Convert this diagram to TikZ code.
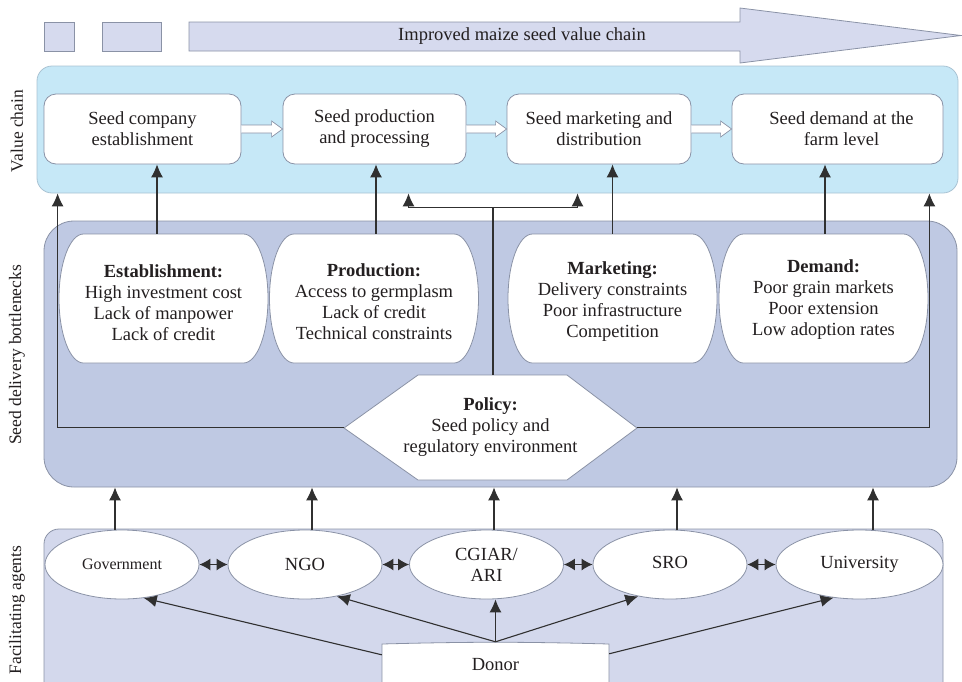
\documentclass[tikz,border=0pt]{standalone}
\usepackage{fontspec}
\setmainfont{Liberation Serif}
\usetikzlibrary{arrows.meta,calc,shapes.geometric}
\definecolor{vcfill}{HTML}{C6E8F7}
\definecolor{vcline}{HTML}{A9C3D3}
\definecolor{bnfill}{HTML}{BFC9E3}
\definecolor{fafill}{HTML}{D3D8EC}
\definecolor{topfill}{HTML}{D6DAEE}
\definecolor{edge}{HTML}{8A92A6}
\definecolor{ink}{HTML}{231F20}
\definecolor{wire}{HTML}{303030}
\newcommand{\bubblepath}[2]{%
  \filldraw[fill=white, draw=edge, line width=0.8pt] ($(#1,#2)+(-80pt,64.5pt)$) -- ++(160pt,0pt)
    arc[start angle=90, end angle=-90, x radius=24.5pt, y radius=64.5pt] -- ++(-160pt,0pt)
    arc[start angle=270, end angle=90, x radius=24.5pt, y radius=64.5pt] -- cycle;}
\newcommand{\hollowarr}[2]{%
  \filldraw[fill=white, draw=edge, line width=0.7pt] ($(#1.east)+(0pt,4pt)$) -- ($(#2.west)+(-11pt,4pt)$)
    -- ($(#2.west)+(-11pt,8pt)$) -- (#2.west) -- ($(#2.west)+(-11pt,-8pt)$)
    -- ($(#2.west)+(-11pt,-4pt)$) -- ($(#1.east)+(0pt,-4pt)$);}
\begin{document}
\begin{tikzpicture}[x=1pt,y=-1pt,
  every node/.style={font=\fontsize{18.5}{21}\selectfont, text=ink},
  topshape/.style={fill=topfill, draw=edge, line width=0.8pt},
  panel/.style={draw=edge, line width=0.8pt, inner sep=0pt},
  chainbox/.style={draw=edge, fill=white, rounded corners=12pt, minimum height=70pt, inner sep=0pt, align=center, line width=0.8pt},
  bubtext/.style={minimum width=209pt, minimum height=129pt, inner sep=0pt, align=center},
  vlabel/.style={rotate=90, font=\fontsize{17.5}{20}\selectfont},
  agent/.style={ellipse, draw=edge, fill=white, minimum width=154pt, minimum height=69pt, inner sep=0pt, align=center, line width=0.8pt},
  shapeline/.style={fill=white, draw=edge, line width=0.8pt},
  wireline/.style={draw=wire, line width=1.1pt},
  arrow/.style={wireline, -{Latex[length=13pt,width=12pt]}},
  dbl/.style={wireline, {Latex[length=11pt,width=12pt]}-{Latex[length=11pt,width=12pt]}}
]
\useasboundingbox (0,0) rectangle (962,681);
\clip (0,0) rectangle (962,681);

% top band
\filldraw[topshape] (44,22) rectangle (74,51);
\filldraw[topshape] (102,22) rectangle (161,51);
\filldraw[topshape] (189,22) -- (740,22) -- (740,8) -- (961,35.5) -- (740,63) -- (740,51) -- (189,51) -- cycle;
\node (title) at (522,36) {Improved maize seed value chain};

% panels
\node[panel, fill=vcfill, draw=vcline, rounded corners=15pt, minimum width=921pt, minimum height=127pt] (vc) at (497.5,129.5) {};
\node[panel, fill=bnfill, rounded corners=30pt, minimum width=913pt, minimum height=266pt] (bn) at (500.5,354) {};
\node[panel, fill=fafill, rounded corners=15pt, minimum width=899pt, minimum height=200pt] (fa) at (493.5,629) {};

% side labels
\node[vlabel] (lvc) at (17,131) {Value chain};
\node[vlabel] (lbn) at (17,355) {Seed delivery bottlenecks};
\node[vlabel] (lfa) at (17,610) {Facilitating agents};

% value chain boxes
\node[chainbox, minimum width=197pt] (b1) at (142.5,129) {Seed company\\establishment};
\node[chainbox, minimum width=183pt] (b2) at (374.5,129) {Seed production\\and processing};
\node[chainbox, minimum width=184pt] (b3) at (599,129) {Seed marketing and\\distribution};
\node[chainbox, minimum width=211pt] (b4) at (837.5,129) {\hspace{8pt}Seed demand at the\\\hspace{8pt}farm level};
\hollowarr{b1}{b2}
\hollowarr{b2}{b3}
\hollowarr{b3}{b4}

% bottleneck bubbles
\bubblepath{163.5}{298.5}
\node[bubtext] (est) at (163.5,298.5) {\textbf{Establishment:}\rule{0pt}{21pt}\\High investment cost\\Lack of manpower\\Lack of credit};
\bubblepath{374}{298.5}
\node[bubtext] (prod) at (374,298.5) {\textbf{Production:}\rule{0pt}{19pt}\\Access to germplasm\\Lack of credit\\Technical constraints};
\bubblepath{612.5}{298.5}
\node[bubtext] (mkt) at (612.5,298.5) {\textbf{Marketing:}\rule{0pt}{19pt}\\Delivery constraints\\Poor infrastructure\\Competition};
\bubblepath{823.5}{298.5}
\node[bubtext] (dem) at (823.5,298.5) {\textbf{Demand:}\rule{0pt}{15pt}\\Poor grain markets\\Poor extension\\Low adoption rates};

\draw[arrow] ([xshift=-6.5pt]est.north) -- ([xshift=-6.5pt]est.north |- b1.south);
\draw[arrow] ([xshift=2pt]prod.north) -- ([xshift=2pt]prod.north |- b2.south);
\draw[arrow] (mkt.north) -- (mkt.north |- b3.south);
\draw[arrow] ([xshift=1.5pt]dem.north) -- ([xshift=1.5pt]dem.north |- b4.south);

% policy
\filldraw[shapeline] (344,428) -- (418,375) -- (567,375) -- (637,428) -- (567,480) -- (418,480) -- cycle;
\node[inner sep=0pt, minimum width=293pt, minimum height=105pt, align=center] (pol) at (490.5,427.5) {\textbf{Policy:}\\Seed policy and\\regulatory environment};
\coordinate (jn) at ($([xshift=2.5pt]pol.north |- vc.south)+(0pt,-14pt)$);
\draw[wireline] ([xshift=2.5pt]pol.north) -- (jn);
\draw[arrow] (jn) -| ([xshift=-89pt]vc.south);
\draw[arrow] (jn) -| ([xshift=80pt]vc.south);
\draw[arrow] (pol.west) -| ([xshift=21pt]vc.south west);
\draw[arrow] (pol.east) -| ([xshift=-29pt]vc.south east);

% facilitating agents
\node[agent] (gov) at (122,564.5) {\fontsize{16}{19}\selectfont Government};
\node[agent] (ngo) at (305,564.5) {NGO};
\node[agent] (cg) at (486.5,564.5) {CGIAR/\\ARI};
\node[agent] (sro) at (670,564.5) {\raisebox{4pt}{SRO}};
\node[agent, minimum width=167pt] (uni) at (859.5,564.5) {University};

\draw[dbl] (gov.east) -- (ngo.west);
\draw[dbl] (ngo.east) -- (cg.west);
\draw[dbl] (cg.east) -- (sro.west);
\draw[dbl] (sro.east) -- (uni.west);

\draw[arrow] ([xshift=-7pt]gov.north) -- ([xshift=-7pt]gov.north |- bn.south);
\draw[arrow] ([xshift=7pt]ngo.north) -- ([xshift=7pt]ngo.north |- bn.south);
\draw[arrow] ([xshift=7.5pt]cg.north) -- ([xshift=7.5pt]cg.north |- bn.south);
\draw[arrow] ([xshift=7pt]sro.north) -- ([xshift=7pt]sro.north |- bn.south);
\draw[arrow] ([xshift=13.5pt]uni.north) -- ([xshift=13.5pt]uni.north |- bn.south);

% donor
\filldraw[shapeline] (382,700) -- (382,644) to[bend left=1.5] (609,644) -- (609,700);
\node[inner sep=0pt, minimum width=227pt, minimum height=46pt] (don) at (495.5,665) {Donor};
\draw[arrow] ([yshift=-13pt]don.north west) -- (gov.-57);
\draw[arrow] (don.north) -- (ngo.-45);
\draw[arrow] (don.north) -- (don.north |- cg.south);
\draw[arrow] (don.north) -- (sro.-135);
\draw[arrow] ([yshift=-12pt]don.north east) -- (uni.-128);
\end{tikzpicture}
\end{document}
